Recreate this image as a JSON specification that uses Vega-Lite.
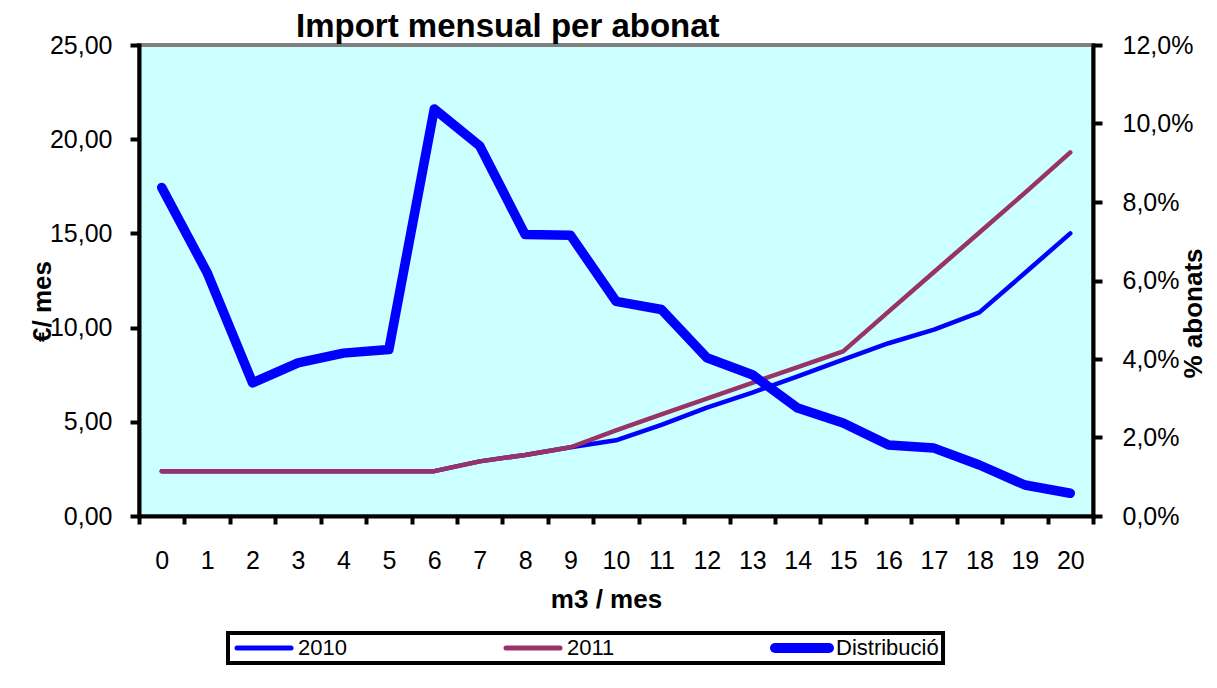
{
  "$schema": "https://vega.github.io/schema/vega-lite/v6.json",
  "width": 954,
  "height": 471,
  "autosize": {"type": "none"},
  "padding": {"left": 139, "top": 45, "right": 124, "bottom": 172},
  "background": "white",
  "config": {
    "locale": {"number": {"decimal": ",", "thousands": ".", "grouping": [3], "currency": ["", " €"]}},
    "view": {"fill": "#CCFFFF", "stroke": "#808080", "strokeWidth": 4},
    "font": "Liberation Sans",
    "axis": {
      "domainColor": "black", "domainWidth": 4, "domainCap": "square",
      "tickColor": "black", "tickWidth": 4, "tickSize": 9,
      "grid": false,
      "labelFont": "Liberation Sans", "labelFontSize": 25, "labelColor": "black",
      "titleFont": "Liberation Sans", "titleFontSize": 26, "titleFontWeight": "bold", "titleColor": "black"
    },
    "legend": {
      "labelFont": "Liberation Sans", "labelFontSize": 22, "labelColor": "black"
    }
  },
  "title": {
    "text": "Import mensual per abonat",
    "font": "Liberation Sans", "fontSize": 33, "fontWeight": "bold", "color": "black",
    "anchor": "start", "frame": "group", "dx": 157, "offset": -11
  },
  "data": {
    "values": [
      {"m3": 0, "serie": "2010", "valor": 2.38},
      {"m3": 1, "serie": "2010", "valor": 2.38},
      {"m3": 2, "serie": "2010", "valor": 2.38},
      {"m3": 3, "serie": "2010", "valor": 2.38},
      {"m3": 4, "serie": "2010", "valor": 2.38},
      {"m3": 5, "serie": "2010", "valor": 2.38},
      {"m3": 6, "serie": "2010", "valor": 2.38},
      {"m3": 7, "serie": "2010", "valor": 2.9},
      {"m3": 8, "serie": "2010", "valor": 3.24},
      {"m3": 9, "serie": "2010", "valor": 3.65},
      {"m3": 10, "serie": "2010", "valor": 4.02},
      {"m3": 11, "serie": "2010", "valor": 4.84},
      {"m3": 12, "serie": "2010", "valor": 5.75},
      {"m3": 13, "serie": "2010", "valor": 6.55},
      {"m3": 14, "serie": "2010", "valor": 7.41},
      {"m3": 15, "serie": "2010", "valor": 8.3},
      {"m3": 16, "serie": "2010", "valor": 9.17},
      {"m3": 17, "serie": "2010", "valor": 9.89},
      {"m3": 18, "serie": "2010", "valor": 10.81},
      {"m3": 19, "serie": "2010", "valor": 12.9},
      {"m3": 20, "serie": "2010", "valor": 15.0},
      {"m3": 0, "serie": "2011", "valor": 2.38},
      {"m3": 1, "serie": "2011", "valor": 2.38},
      {"m3": 2, "serie": "2011", "valor": 2.38},
      {"m3": 3, "serie": "2011", "valor": 2.38},
      {"m3": 4, "serie": "2011", "valor": 2.38},
      {"m3": 5, "serie": "2011", "valor": 2.38},
      {"m3": 6, "serie": "2011", "valor": 2.38},
      {"m3": 7, "serie": "2011", "valor": 2.9},
      {"m3": 8, "serie": "2011", "valor": 3.24},
      {"m3": 9, "serie": "2011", "valor": 3.65},
      {"m3": 10, "serie": "2011", "valor": 4.55},
      {"m3": 11, "serie": "2011", "valor": 5.39},
      {"m3": 12, "serie": "2011", "valor": 6.23},
      {"m3": 13, "serie": "2011", "valor": 7.07},
      {"m3": 14, "serie": "2011", "valor": 7.9},
      {"m3": 15, "serie": "2011", "valor": 8.74},
      {"m3": 16, "serie": "2011", "valor": 10.85},
      {"m3": 17, "serie": "2011", "valor": 12.95},
      {"m3": 18, "serie": "2011", "valor": 15.05},
      {"m3": 19, "serie": "2011", "valor": 17.15},
      {"m3": 20, "serie": "2011", "valor": 19.3},
      {"m3": 0, "serie": "Distribució", "valor": 0.0837},
      {"m3": 1, "serie": "Distribució", "valor": 0.062},
      {"m3": 2, "serie": "Distribució", "valor": 0.0339},
      {"m3": 3, "serie": "Distribució", "valor": 0.039},
      {"m3": 4, "serie": "Distribució", "valor": 0.0415},
      {"m3": 5, "serie": "Distribució", "valor": 0.0424},
      {"m3": 6, "serie": "Distribució", "valor": 0.1037},
      {"m3": 7, "serie": "Distribució", "valor": 0.0943},
      {"m3": 8, "serie": "Distribució", "valor": 0.0717},
      {"m3": 9, "serie": "Distribució", "valor": 0.0715},
      {"m3": 10, "serie": "Distribució", "valor": 0.0547},
      {"m3": 11, "serie": "Distribució", "valor": 0.0526},
      {"m3": 12, "serie": "Distribució", "valor": 0.0403},
      {"m3": 13, "serie": "Distribució", "valor": 0.036},
      {"m3": 14, "serie": "Distribució", "valor": 0.0275},
      {"m3": 15, "serie": "Distribució", "valor": 0.0237},
      {"m3": 16, "serie": "Distribució", "valor": 0.0181},
      {"m3": 17, "serie": "Distribució", "valor": 0.0173},
      {"m3": 18, "serie": "Distribució", "valor": 0.013},
      {"m3": 19, "serie": "Distribució", "valor": 0.0079},
      {"m3": 20, "serie": "Distribució", "valor": 0.0058}
    ]
  },
  "encoding": {
    "x": {
      "field": "m3", "type": "ordinal", "bandPosition": 0.5,
      "scale": {"type": "band", "paddingInner": 0, "paddingOuter": 0},
      "axis": {
        "title": "m3 / mes", "labelAngle": 0, "tickBand": "extent", "tickSize": 8,
        "labelPadding": 24,
        "titleX": 467, "titleY": 83, "titleAlign": "center", "titleBaseline": "middle"
      }
    }
  },
  "layer": [
    {
      "transform": [{"filter": "datum.serie !== 'Distribució'"}],
      "mark": {"type": "line", "strokeCap": "round", "strokeJoin": "round", "strokeWidth": 4.5},
      "encoding": {
        "y": {
          "field": "valor", "type": "quantitative",
          "scale": {"domain": [0, 25], "nice": false, "zero": true},
          "axis": {
            "title": "€/ mes", "values": [0, 5, 10, 15, 20, 25], "format": ".2f",
            "labelPadding": 18,
            "titleX": -97, "titleY": 256, "titleAlign": "center", "titleBaseline": "middle", "titleAngle": 270
          }
        },
        "color": {
          "field": "serie", "type": "nominal",
          "scale": {"domain": ["2010", "2011", "Distribució"], "range": ["#0000FF", "#993366", "#0000FF"]},
          "legend": {
            "title": null, "orient": "none", "legendX": 89, "legendY": 588,
            "direction": "horizontal", "columns": 3, "gridAlign": "all", "columnPadding": 100,
            "symbolType": "stroke", "symbolSize": 2916, "labelOffset": 2, "padding": 4, "clipHeight": 22,
            "strokeColor": "black", "fillColor": "white",
            "encode": {
              "legend": {"update": {"strokeWidth": {"value": 4}}},
              "symbols": {"update": {"strokeCap": {"value": "round"}, "strokeWidth": {"signal": "((datum.value || datum) === 'Distribució' ? 10 : 5)"}}}
            }
          }
        }
      }
    },
    {
      "transform": [{"filter": "datum.serie === 'Distribució'"}],
      "mark": {"type": "line", "strokeCap": "round", "strokeJoin": "round", "strokeWidth": 9.5},
      "encoding": {
        "y": {
          "field": "valor", "type": "quantitative",
          "scale": {"domain": [0, 0.12], "nice": false, "zero": true},
          "axis": {
            "orient": "right", "title": "% abonats",
            "values": [0, 0.02, 0.04, 0.06, 0.08, 0.1, 0.12], "format": ".1%",
            "labelPadding": 20,
            "titleX": 100, "titleY": 268, "titleAlign": "center", "titleBaseline": "middle", "titleAngle": 270
          }
        },
        "color": {
          "field": "serie", "type": "nominal",
          "scale": {"domain": ["2010", "2011", "Distribució"], "range": ["#0000FF", "#993366", "#0000FF"]}
        }
      }
    }
  ],
  "resolve": {"scale": {"y": "independent"}}
}
